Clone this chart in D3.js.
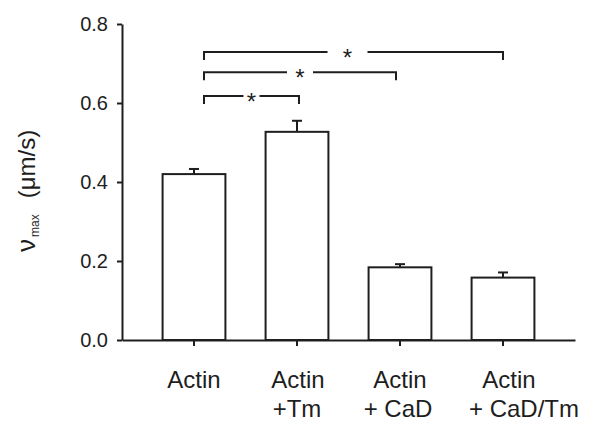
<!DOCTYPE html>
<html>
<head>
<meta charset="utf-8">
<script src="https://cdn.jsdelivr.net/npm/d3@7"></script>
<style>
  html, body { margin: 0; padding: 0; background: #fff; }
  svg { display: block; font-family: "Liberation Sans", Arial, sans-serif; }
</style>
</head>
<body>
<svg id="chart" width="600" height="436"></svg>
<script>
// ---- data ----
const categories = ["Actin", "Actin +Tm", "Actin + CaD", "Actin + CaD/Tm"];
const labelLines = [["Actin"], ["Actin", "+Tm"], ["Actin", "+ CaD"], ["Actin", "+ CaD/Tm"]];
const values = [0.42, 0.527, 0.184, 0.158];
const errors = [0.013, 0.028, 0.008, 0.013];
const yTicks = [0.0, 0.2, 0.4, 0.6, 0.8];
const compareFrom = [0, 0, 0];
const compareTo = [1, 2, 3];
const compareLevel = [0.618, 0.678, 0.729];
const compareMark = ["*", "*", "*"];

// ---- layout ----
const ink = "#1e1e1e";
const svg = d3.select("#chart");
const x = d3.scaleBand().domain(categories).range([122, 575]).paddingInner(0.39).paddingOuter(0.394);
const y = d3.scaleLinear().domain([0, 0.8]).range([340, 24]);
const cx = c => x(c) + x.bandwidth() / 2;

// y axis
const gy = svg.append("g").attr("transform", "translate(122,0)")
  .call(d3.axisLeft(y).tickValues(yTicks).tickFormat(d3.format(".1f")).tickSize(5).tickSizeOuter(0).tickPadding(9));
gy.select(".domain").attr("stroke", ink).attr("stroke-width", 2);
gy.selectAll(".tick line").attr("stroke", ink).attr("stroke-width", 2);
gy.selectAll(".tick text").attr("fill", ink).attr("font-size", 20).attr("font-family", "Liberation Sans, Arial, sans-serif");

// bars
svg.append("g").selectAll("rect").data(categories).join("rect")
  .attr("x", d => x(d))
  .attr("y", (d, i) => y(values[i]))
  .attr("width", x.bandwidth())
  .attr("height", (d, i) => y(0) - y(values[i]))
  .attr("fill", "#fff").attr("stroke", ink).attr("stroke-width", 2);

// error bars (upper only)
const eg = svg.append("g").attr("stroke", ink).attr("stroke-width", 2);
categories.forEach((c, i) => {
  eg.append("line").attr("x1", cx(c)).attr("x2", cx(c))
    .attr("y1", y(values[i])).attr("y2", y(values[i] + errors[i]));
  eg.append("line").attr("x1", cx(c) - 5).attr("x2", cx(c) + 5)
    .attr("y1", y(values[i] + errors[i])).attr("y2", y(values[i] + errors[i]));
});

// x axis
const gx = svg.append("g").attr("transform", "translate(0,340)")
  .call(d3.axisBottom(x).tickSize(6).tickSizeOuter(0).tickFormat(""));
gx.select(".domain").attr("stroke", ink).attr("stroke-width", 2);
gx.selectAll(".tick line").attr("stroke", ink).attr("stroke-width", 2);

// category labels
const lineShift = [[0], [1], [0, -2], [6, 21]];
categories.forEach((c, i) => {
  labelLines[i].forEach((t, j) => {
    svg.append("text")
      .attr("x", cx(c) + (lineShift[i][j] || 0))
      .attr("y", 388 + j * 29)
      .attr("text-anchor", "middle")
      .attr("font-size", 24)
      .attr("fill", ink)
      .text(t);
  });
});

// significance brackets
const gapHalf = [8, 13, 20];
const leftOff = 10;
const bg = svg.append("g").attr("stroke", ink).attr("stroke-width", 2).attr("fill", "none");
compareFrom.forEach((f, k) => {
  const x1 = cx(categories[f]) + leftOff;
  const x2 = cx(categories[compareTo[k]]) + (k === 2 ? 0 : (k === 0 ? 2 : -4));
  const yy = y(compareLevel[k]);
  const mid = k === 2 ? x1 + (x2 - x1) * 0.48 : (x1 + x2) / 2;
  bg.append("path").attr("d", `M${x1},${yy + 8}V${yy}H${mid - gapHalf[k]}`);
  bg.append("path").attr("d", `M${mid + gapHalf[k]},${yy}H${x2}V${yy + 8}`);
  svg.append("text").attr("x", mid).attr("y", yy + 14)
    .attr("text-anchor", "middle").attr("font-size", 24).attr("fill", ink)
    .text(compareMark[k]);
});

// y label
const yl = svg.append("text")
  .attr("transform", "translate(35,252) rotate(-90)")
  .attr("fill", ink);
yl.append("tspan").attr("font-size", 26).text("ν");
yl.append("tspan").attr("font-size", 12).attr("dy", 4).attr("dx", 2).text("max");
yl.append("tspan").attr("font-size", 24).attr("dy", -4).attr("dx", 16).text("(μm/s)");
</script>
</body>
</html>
